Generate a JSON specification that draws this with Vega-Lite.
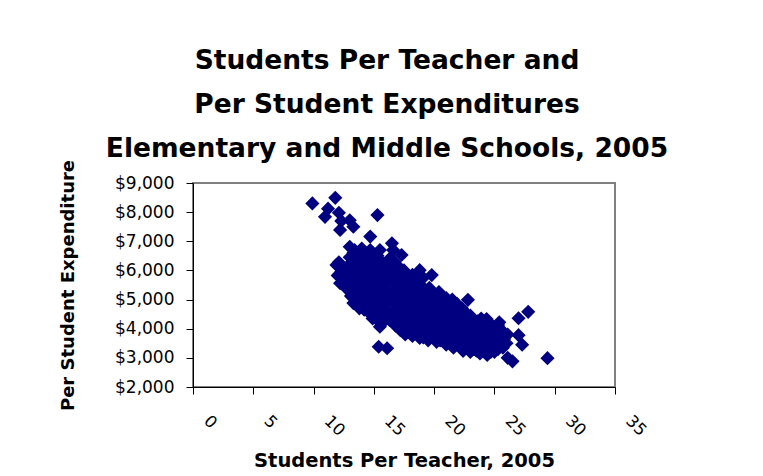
{
  "$schema": "https://vega.github.io/schema/vega-lite/v6.json",
  "width": 422,
  "height": 204,
  "autosize": {"type": "none"},
  "padding": {"left": 193, "top": 183, "right": 148, "bottom": 89},
  "background": "white",
  "title": {
    "text": ["Students Per Teacher and", "Per Student Expenditures", "Elementary and Middle Schools, 2005"],
    "font": "DejaVu Sans",
    "fontSize": 26.5,
    "fontWeight": "bold",
    "lineHeight": 44,
    "anchor": "middle",
    "dx": -17,
    "dy": 13,
    "offset": 10,
    "color": "black"
  },
  "data": {
    "values": [
      {"ratio": 9.9, "spend": 8300}, {"ratio": 11.8, "spend": 8490}, {"ratio": 11.2, "spend": 8120}, {"ratio": 10.95, "spend": 7840},
      {"ratio": 12.1, "spend": 7980}, {"ratio": 12.3, "spend": 7700}, {"ratio": 13.0, "spend": 7720}, {"ratio": 13.3, "spend": 7500},
      {"ratio": 12.2, "spend": 7390}, {"ratio": 15.3, "spend": 7900}, {"ratio": 14.7, "spend": 7160}, {"ratio": 16.5, "spend": 6930},
      {"ratio": 12.2, "spend": 5560}, {"ratio": 12.4, "spend": 5620}, {"ratio": 12.0, "spend": 5830}, {"ratio": 12.3, "spend": 5950},
      {"ratio": 11.9, "spend": 6190}, {"ratio": 12.2, "spend": 6080}, {"ratio": 12.1, "spend": 6280},
      {"ratio": 13.3, "spend": 4880}, {"ratio": 13.1, "spend": 5120}, {"ratio": 12.8, "spend": 5350}, {"ratio": 13.0, "spend": 5380},
      {"ratio": 12.9, "spend": 5600}, {"ratio": 13.2, "spend": 5700}, {"ratio": 12.8, "spend": 5880}, {"ratio": 13.1, "spend": 6000},
      {"ratio": 12.9, "spend": 6150}, {"ratio": 13.2, "spend": 6300}, {"ratio": 13.0, "spend": 6450}, {"ratio": 13.3, "spend": 6600},
      {"ratio": 13.0, "spend": 6810},
      {"ratio": 13.5, "spend": 4950}, {"ratio": 13.4, "spend": 5250}, {"ratio": 13.5, "spend": 5550}, {"ratio": 13.4, "spend": 5900},
      {"ratio": 13.5, "spend": 6250}, {"ratio": 13.4, "spend": 6700},
      {"ratio": 13.8, "spend": 4700}, {"ratio": 14.0, "spend": 4850}, {"ratio": 13.6, "spend": 5050}, {"ratio": 13.9, "spend": 5200},
      {"ratio": 14.1, "spend": 5400}, {"ratio": 13.7, "spend": 5500}, {"ratio": 14.0, "spend": 5650}, {"ratio": 13.8, "spend": 5850},
      {"ratio": 14.1, "spend": 6000}, {"ratio": 13.6, "spend": 6150}, {"ratio": 13.9, "spend": 6300}, {"ratio": 14.1, "spend": 6480},
      {"ratio": 13.7, "spend": 6600}, {"ratio": 14.0, "spend": 6750},
      {"ratio": 14.2, "spend": 4650}, {"ratio": 14.2, "spend": 5100}, {"ratio": 14.2, "spend": 5750}, {"ratio": 14.2, "spend": 6150},
      {"ratio": 14.6, "spend": 4550}, {"ratio": 14.4, "spend": 4700}, {"ratio": 14.8, "spend": 4800}, {"ratio": 14.3, "spend": 5000},
      {"ratio": 14.7, "spend": 5150}, {"ratio": 14.5, "spend": 5300}, {"ratio": 14.8, "spend": 5480}, {"ratio": 14.4, "spend": 5600},
      {"ratio": 14.6, "spend": 5800}, {"ratio": 14.3, "spend": 5950}, {"ratio": 14.8, "spend": 6100}, {"ratio": 14.5, "spend": 6250},
      {"ratio": 14.7, "spend": 6420}, {"ratio": 14.4, "spend": 6580}, {"ratio": 14.7, "spend": 6700},
      {"ratio": 14.9, "spend": 4350}, {"ratio": 14.9, "spend": 4950}, {"ratio": 14.9, "spend": 5650}, {"ratio": 14.9, "spend": 6550},
      {"ratio": 15.5, "spend": 4070}, {"ratio": 15.3, "spend": 4300}, {"ratio": 15.0, "spend": 4450}, {"ratio": 15.4, "spend": 4550},
      {"ratio": 15.2, "spend": 4750}, {"ratio": 15.5, "spend": 4900}, {"ratio": 15.0, "spend": 5050}, {"ratio": 15.3, "spend": 5200},
      {"ratio": 15.1, "spend": 5400}, {"ratio": 15.5, "spend": 5550}, {"ratio": 15.2, "spend": 5700}, {"ratio": 15.0, "spend": 5900},
      {"ratio": 15.4, "spend": 6050}, {"ratio": 15.1, "spend": 6200}, {"ratio": 15.5, "spend": 6350}, {"ratio": 15.3, "spend": 6500},
      {"ratio": 15.5, "spend": 6700},
      {"ratio": 15.7, "spend": 4200}, {"ratio": 15.7, "spend": 4650}, {"ratio": 15.6, "spend": 5250}, {"ratio": 15.7, "spend": 6250},
      {"ratio": 16.3, "spend": 4300}, {"ratio": 15.9, "spend": 4450}, {"ratio": 16.1, "spend": 4600}, {"ratio": 15.8, "spend": 4800},
      {"ratio": 16.2, "spend": 4950}, {"ratio": 16.0, "spend": 5100}, {"ratio": 16.3, "spend": 5250}, {"ratio": 15.9, "spend": 5400},
      {"ratio": 16.1, "spend": 5600}, {"ratio": 16.3, "spend": 5750}, {"ratio": 15.8, "spend": 5900}, {"ratio": 16.2, "spend": 6050},
      {"ratio": 16.0, "spend": 6200}, {"ratio": 16.3, "spend": 6400}, {"ratio": 16.6, "spend": 6700},
      {"ratio": 16.8, "spend": 4100}, {"ratio": 16.6, "spend": 4250}, {"ratio": 17.0, "spend": 4400}, {"ratio": 16.5, "spend": 4550},
      {"ratio": 16.9, "spend": 4700}, {"ratio": 16.7, "spend": 4850}, {"ratio": 17.0, "spend": 5050}, {"ratio": 16.6, "spend": 5200},
      {"ratio": 16.9, "spend": 5350}, {"ratio": 16.7, "spend": 5550}, {"ratio": 17.0, "spend": 5700}, {"ratio": 16.5, "spend": 5850},
      {"ratio": 16.8, "spend": 6000}, {"ratio": 17.0, "spend": 6150}, {"ratio": 16.7, "spend": 6300},
      {"ratio": 17.2, "spend": 3950}, {"ratio": 17.6, "spend": 3800}, {"ratio": 17.4, "spend": 4100}, {"ratio": 17.7, "spend": 4250},
      {"ratio": 17.3, "spend": 4400}, {"ratio": 17.6, "spend": 4600}, {"ratio": 17.2, "spend": 4750}, {"ratio": 17.5, "spend": 4900},
      {"ratio": 17.7, "spend": 5050}, {"ratio": 17.3, "spend": 5250}, {"ratio": 17.6, "spend": 5400}, {"ratio": 17.4, "spend": 5550},
      {"ratio": 17.7, "spend": 5700}, {"ratio": 17.2, "spend": 5850}, {"ratio": 17.5, "spend": 6000}, {"ratio": 17.3, "spend": 6530},
      {"ratio": 18.2, "spend": 3750}, {"ratio": 17.9, "spend": 3900}, {"ratio": 18.3, "spend": 4000}, {"ratio": 18.0, "spend": 4150},
      {"ratio": 18.4, "spend": 4300}, {"ratio": 18.1, "spend": 4450}, {"ratio": 17.9, "spend": 4600}, {"ratio": 18.3, "spend": 4750},
      {"ratio": 18.0, "spend": 4900}, {"ratio": 18.4, "spend": 5100}, {"ratio": 18.1, "spend": 5250}, {"ratio": 17.9, "spend": 5400},
      {"ratio": 18.3, "spend": 5550}, {"ratio": 18.0, "spend": 5700}, {"ratio": 18.2, "spend": 5850}, {"ratio": 18.8, "spend": 6010},
      {"ratio": 18.8, "spend": 3680}, {"ratio": 19.1, "spend": 3700}, {"ratio": 18.6, "spend": 3850}, {"ratio": 19.0, "spend": 3950},
      {"ratio": 18.7, "spend": 4100}, {"ratio": 19.1, "spend": 4250}, {"ratio": 18.8, "spend": 4400}, {"ratio": 18.6, "spend": 4550},
      {"ratio": 19.0, "spend": 4700}, {"ratio": 18.7, "spend": 4850}, {"ratio": 19.1, "spend": 5000}, {"ratio": 18.8, "spend": 5150},
      {"ratio": 18.6, "spend": 5300}, {"ratio": 19.0, "spend": 5450}, {"ratio": 18.7, "spend": 5600}, {"ratio": 19.1, "spend": 5750},
      {"ratio": 19.5, "spend": 3600}, {"ratio": 19.3, "spend": 3750}, {"ratio": 19.7, "spend": 3850}, {"ratio": 19.4, "spend": 4000},
      {"ratio": 19.8, "spend": 4150}, {"ratio": 19.5, "spend": 4300}, {"ratio": 19.3, "spend": 4450}, {"ratio": 19.7, "spend": 4600},
      {"ratio": 19.4, "spend": 4750}, {"ratio": 19.8, "spend": 4900}, {"ratio": 19.5, "spend": 5050}, {"ratio": 19.3, "spend": 5200},
      {"ratio": 19.6, "spend": 5400}, {"ratio": 19.8, "spend": 5840},
      {"ratio": 20.2, "spend": 3550}, {"ratio": 20.5, "spend": 3600}, {"ratio": 20.0, "spend": 3700}, {"ratio": 20.3, "spend": 3850},
      {"ratio": 20.1, "spend": 4000}, {"ratio": 20.5, "spend": 4100}, {"ratio": 20.2, "spend": 4250}, {"ratio": 20.0, "spend": 4400},
      {"ratio": 20.4, "spend": 4550}, {"ratio": 20.1, "spend": 4700}, {"ratio": 20.5, "spend": 4850}, {"ratio": 20.2, "spend": 5000},
      {"ratio": 20.0, "spend": 5150}, {"ratio": 20.4, "spend": 5260},
      {"ratio": 21.0, "spend": 3450}, {"ratio": 20.8, "spend": 3600}, {"ratio": 21.2, "spend": 3700}, {"ratio": 20.9, "spend": 3850},
      {"ratio": 20.7, "spend": 4000}, {"ratio": 21.1, "spend": 4150}, {"ratio": 20.8, "spend": 4300}, {"ratio": 21.2, "spend": 4450},
      {"ratio": 20.9, "spend": 4600}, {"ratio": 21.1, "spend": 4750}, {"ratio": 20.8, "spend": 4900}, {"ratio": 21.0, "spend": 5050},
      {"ratio": 21.6, "spend": 3350}, {"ratio": 21.9, "spend": 3450}, {"ratio": 21.4, "spend": 3550}, {"ratio": 21.7, "spend": 3700},
      {"ratio": 21.5, "spend": 3850}, {"ratio": 21.9, "spend": 3950}, {"ratio": 21.6, "spend": 4100}, {"ratio": 21.4, "spend": 4250},
      {"ratio": 21.8, "spend": 4400}, {"ratio": 21.5, "spend": 4550}, {"ratio": 21.7, "spend": 4700}, {"ratio": 21.9, "spend": 4850},
      {"ratio": 21.5, "spend": 5000},
      {"ratio": 22.4, "spend": 3240}, {"ratio": 22.1, "spend": 3400}, {"ratio": 22.5, "spend": 3500}, {"ratio": 22.2, "spend": 3650},
      {"ratio": 22.6, "spend": 3800}, {"ratio": 22.3, "spend": 3950}, {"ratio": 22.1, "spend": 4100}, {"ratio": 22.5, "spend": 4250},
      {"ratio": 22.2, "spend": 4400}, {"ratio": 22.6, "spend": 4550}, {"ratio": 22.3, "spend": 4700}, {"ratio": 22.8, "spend": 4990},
      {"ratio": 23.0, "spend": 3200}, {"ratio": 23.3, "spend": 3300}, {"ratio": 22.9, "spend": 3400}, {"ratio": 23.2, "spend": 3550},
      {"ratio": 22.8, "spend": 3700}, {"ratio": 23.1, "spend": 3850}, {"ratio": 23.3, "spend": 4000}, {"ratio": 22.9, "spend": 4150},
      {"ratio": 23.2, "spend": 4300}, {"ratio": 23.0, "spend": 4450},
      {"ratio": 23.8, "spend": 3150}, {"ratio": 23.5, "spend": 3250}, {"ratio": 24.0, "spend": 3350}, {"ratio": 23.6, "spend": 3500},
      {"ratio": 23.9, "spend": 3650}, {"ratio": 23.5, "spend": 3800}, {"ratio": 23.8, "spend": 3950}, {"ratio": 24.0, "spend": 4100},
      {"ratio": 23.6, "spend": 4250}, {"ratio": 23.9, "spend": 4350},
      {"ratio": 24.4, "spend": 3100}, {"ratio": 24.7, "spend": 3200}, {"ratio": 24.2, "spend": 3300}, {"ratio": 24.5, "spend": 3450},
      {"ratio": 24.3, "spend": 3600}, {"ratio": 24.7, "spend": 3750}, {"ratio": 24.4, "spend": 3900}, {"ratio": 24.2, "spend": 4050},
      {"ratio": 24.6, "spend": 4200}, {"ratio": 24.35, "spend": 4330},
      {"ratio": 25.0, "spend": 3200}, {"ratio": 25.3, "spend": 3300}, {"ratio": 25.5, "spend": 3450}, {"ratio": 24.9, "spend": 3550},
      {"ratio": 25.2, "spend": 3700}, {"ratio": 25.4, "spend": 3850}, {"ratio": 25.0, "spend": 4000}, {"ratio": 25.3, "spend": 4130},
      {"ratio": 25.4, "spend": 4220},
      {"ratio": 25.7, "spend": 3350}, {"ratio": 26.0, "spend": 3500}, {"ratio": 25.8, "spend": 3650}, {"ratio": 26.1, "spend": 3800},
      {"ratio": 25.6, "spend": 3950},
      {"ratio": 26.1, "spend": 3000}, {"ratio": 26.5, "spend": 2880}, {"ratio": 27.0, "spend": 4360}, {"ratio": 27.8, "spend": 4580},
      {"ratio": 27.0, "spend": 3780}, {"ratio": 27.3, "spend": 3450}, {"ratio": 29.4, "spend": 2990},
      {"ratio": 15.4, "spend": 3380}, {"ratio": 16.1, "spend": 3330}
    ]
  },
  "mark": {"type": "point", "shape": "diamond", "filled": true, "size": 200, "color": "#000080", "opacity": 1},
  "encoding": {
    "x": {
      "field": "ratio",
      "type": "quantitative",
      "scale": {"domain": [0, 35], "nice": false, "zero": false},
      "axis": {
        "title": "Students Per Teacher, 2005",
        "values": [0, 5, 10, 15, 20, 25, 30, 35],
        "labelAngle": 45,
        "labelAlign": "left",
        "labelBaseline": "middle",
        "labelOffset": 13,
        "labelPadding": 24,
        "labelFlush": false,
        "labelOverlap": false,
        "titleFontSize": 19.5,
        "titlePadding": 13
      }
    },
    "y": {
      "field": "spend",
      "type": "quantitative",
      "scale": {"domain": [2000, 9000], "nice": false, "zero": false},
      "axis": {
        "title": "Per Student Expenditure",
        "values": [2000, 3000, 4000, 5000, 6000, 7000, 8000, 9000],
        "format": "$,.0f",
        "labelPadding": 12,
        "labelFlush": false,
        "labelOverlap": false,
        "labelFontSize": 17,
        "titleFontSize": 18,
        "titlePadding": 37
      }
    }
  },
  "config": {
    "view": {"stroke": "#808080", "strokeWidth": 2},
    "axis": {
      "grid": false,
      "domainColor": "black",
      "domainWidth": 1,
      "tickColor": "black",
      "tickSize": 7,
      "labelFont": "DejaVu Sans",
      "labelFontSize": 16.5,
      "labelColor": "black",
      "titleFont": "DejaVu Sans",
      "titleFontWeight": "bold",
      "titleColor": "black"
    }
  }
}
